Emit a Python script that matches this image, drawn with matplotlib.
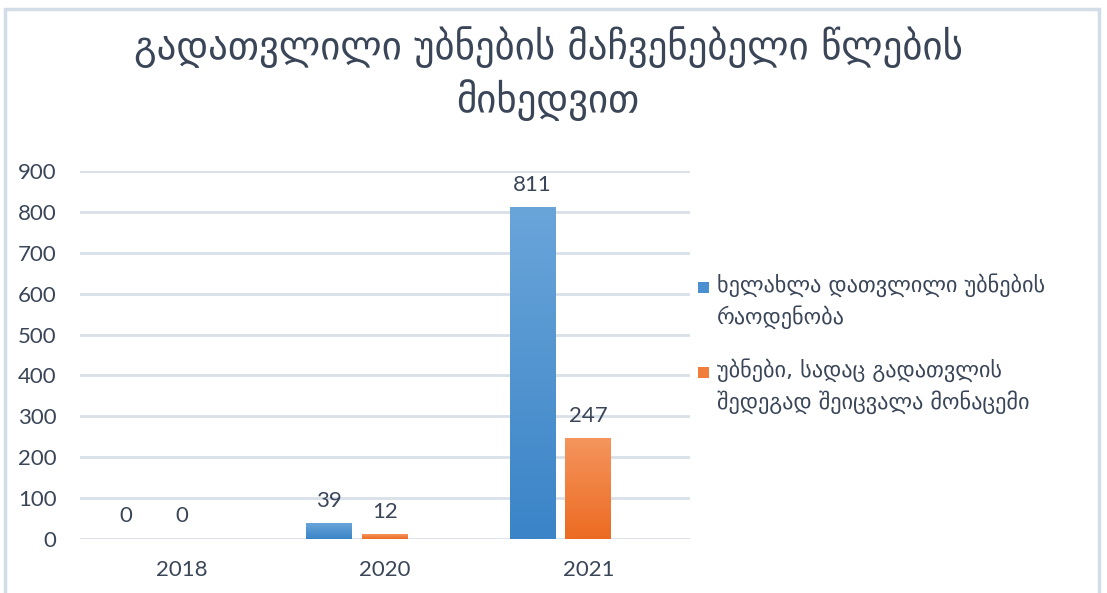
import matplotlib.pyplot as plt
import numpy as np
from matplotlib.patches import Rectangle
from matplotlib.colors import LinearSegmentedColormap

years = ['2018', '2020', '2021']
recounted = [0, 39, 811]
changed = [0, 12, 247]
series_names = ['ხელახლა დათვლილი უბნების\nრაოდენობა',
                'უბნები, სადაც გადათვლის\nშედეგად შეიცვალა მონაცემი']
title = 'გადათვლილი უბნების მაჩვენებელი წლების\nმიხედვით'

TEXT = '#3a4658'
GRID = '#d9e0e8'
NUM_FONT = ['Lato', 'DejaVu Sans']
GEO_FONT = ['DejaVu Sans']

blue_cmap = LinearSegmentedColormap.from_list('b', ['#6aa5da', '#3a84c7'])
orange_cmap = LinearSegmentedColormap.from_list('o', ['#f5955d', '#ec6b22'])

fig = plt.figure(figsize=(11.07, 5.93), dpi=100)
fig.patch.set_facecolor('white')

# outer frame
fig.patches.append(Rectangle((5 / 1107, -0.05), 1094 / 1107, 1.05 - 9 / 593,
                             transform=fig.transFigure, fill=False,
                             edgecolor='#d3dde7', linewidth=2.5))

ax = fig.add_axes([80 / 1107, 54 / 593, 610 / 1107, 368 / 593])
x = np.arange(len(years))
width = 0.225
slot = 0.275


def gradient_bars(xs, vals, cmap):
    bars = ax.bar(xs, vals, width, color='none', edgecolor='none', zorder=3)
    grad = np.linspace(0, 1, 256).reshape(-1, 1)
    for b in bars:
        h = b.get_height()
        if h <= 0:
            continue
        x0 = b.get_x()
        im = ax.imshow(grad, cmap=cmap, aspect='auto', origin='upper',
                       extent=[x0, x0 + b.get_width(), 0, h], zorder=3)
        im.set_clip_path(b)
    return bars


gradient_bars(x - slot, recounted, blue_cmap)
gradient_bars(x, changed, orange_cmap)

for xs, vals in ((x - slot, recounted), (x, changed)):
    for xi, v in zip(xs, vals):
        ax.annotate(str(v), (xi, v), xytext=(0, 9), textcoords='offset points',
                    ha='center', va='bottom', fontsize=16, color=TEXT,
                    family=NUM_FONT)

ax.set_xlim(-0.5, 2.5)
ax.set_ylim(0, 900)
ax.set_yticks(range(0, 901, 100))
ax.set_xticks(x)
ax.set_xticklabels(years)
ax.grid(axis='y', color=GRID, linewidth=2, zorder=0)
ax.set_axisbelow(True)
for s in ax.spines.values():
    s.set_visible(False)
ax.tick_params(length=0, colors=TEXT, labelsize=16)
ax.tick_params(axis='x', pad=15)
ax.tick_params(axis='y', pad=17)
for lab in ax.get_xticklabels() + ax.get_yticklabels():
    lab.set_family(NUM_FONT)

# legend
leg_items = [(series_names[0], '#4a90d0', 287), (series_names[1], '#f07d3c', 372)]
for text, col, ypix in leg_items:
    fig.patches.append(Rectangle((698 / 1107, 1 - (ypix + 6) / 593), 11 / 1107, 11 / 593,
                                 transform=fig.transFigure, facecolor=col,
                                 edgecolor='none'))
    fig.text(717 / 1107, 1 - (ypix - 14) / 593, text, fontsize=16, color=TEXT,
             family=GEO_FONT, va='top', ha='left', linespacing=1.45)

fig.text(548 / 1107, 1 - 26 / 593, title, ha='center', va='top', fontsize=28,
         color=TEXT, family=GEO_FONT, linespacing=1.35)

fig.savefig('out.png', dpi=100, facecolor='white')
